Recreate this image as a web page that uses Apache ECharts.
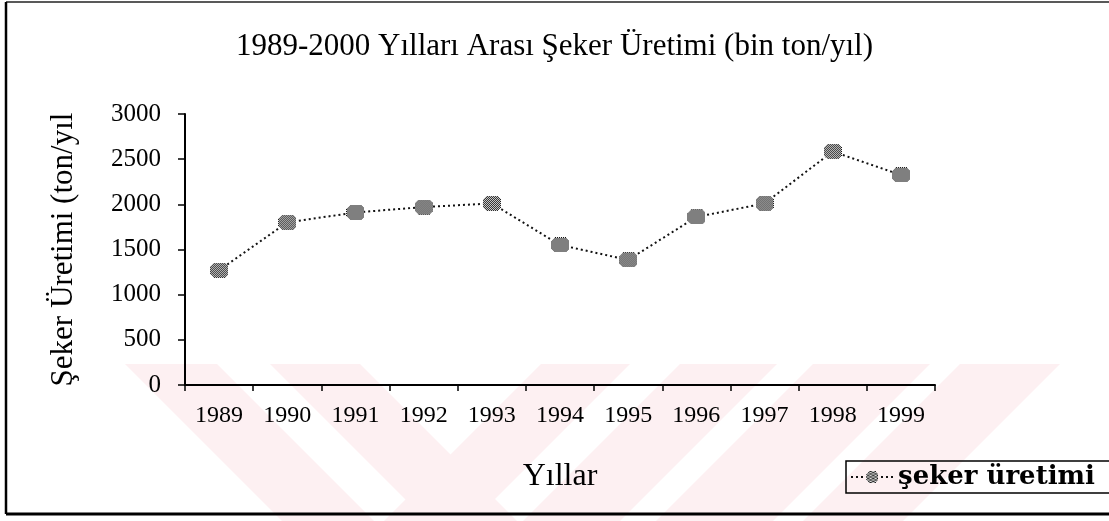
<!DOCTYPE html>
<html>
<head>
<meta charset="utf-8">
<script src="https://cdn.jsdelivr.net/npm/echarts@6/dist/echarts.min.js"></script>
<style>
html,body{margin:0;padding:0;background:#fff;}
#chart{width:1109px;height:521px;}
</style>
</head>
<body>
<div id="chart"></div>
<script>
// ---- data ----
const years = ['1989','1990','1991','1992','1993','1994','1995','1996','1997','1998','1999'];
const production = [1270, 1800, 1910, 1970, 2010, 1550, 1385, 1860, 2010, 2585, 2325];
const seriesName = 'şeker üretimi';
const titleText = '1989-2000 Yılları Arası Şeker Üretimi (bin ton/yıl)';
const yAxisName = 'Şeker Üretimi (ton/yıl';
const xAxisName = 'Yıllar';
const yMin = 0, yMax = 3000, yStep = 500;

// checkered marker image (drawn at exact pixel size)
const MW = 18, MH = 15;
const mk = document.createElement('canvas');
mk.width = MW; mk.height = MH;
const mc = mk.getContext('2d');
const img = mc.createImageData(MW, MH);
for (let y = 0; y < MH; y++) {
  for (let x = 0; x < MW; x++) {
    const cut = 3;
    const dx = Math.min(x, MW - 1 - x), dy = Math.min(y, MH - 1 - y);
    if (dx + dy < cut) continue; // cut corners -> octagon
    const i = (y * MW + x) * 4;
    const dark = (x + y) % 2 === 0;
    const v = dark ? 20 : 235;
    img.data[i] = v; img.data[i+1] = v; img.data[i+2] = v; img.data[i+3] = 255;
  }
}
mc.putImageData(img, 0, 0);
const markerSymbol = 'image://' + mk.toDataURL();

const serif = 'Liberation Serif';
const ink = '#000';
const wmColor = '#fdf0f2';
function bandDown(a,b){ return {type:'polygon', z:-10, silent:true, shape:{points:[[a,364],[b,364],[b+157,521],[a+157,521]]}, style:{fill:wmColor}}; }
function bandUp(a,b){ return {type:'polygon', z:-10, silent:true, shape:{points:[[a,364],[b,364],[b-157,521],[a-157,521]]}, style:{fill:wmColor}}; }

const chart = echarts.init(document.getElementById('chart'), null, {renderer:'canvas'});
chart.setOption({
  backgroundColor:'#ffffff',
  animation:false,
  title:{
    text:titleText, left:'center', top:26,
    textStyle:{fontFamily:serif, fontSize:31, fontWeight:'normal', color:ink}
  },
  grid:{left:185, right:174, top:114, bottom:136, containLabel:false},
  xAxis:{
    type:'category', data:years, boundaryGap:true,
    name:xAxisName, nameLocation:'middle', nameGap:76,
    nameTextStyle:{fontFamily:serif, fontSize:32, color:ink},
    axisLine:{lineStyle:{color:ink, width:2}},
    axisTick:{show:true, inside:false, length:6, lineStyle:{color:ink, width:1.5}},
    axisLabel:{fontFamily:serif, fontSize:24, color:ink, margin:19},
    splitLine:{show:false}
  },
  yAxis:{
    type:'value', min:yMin, max:yMax, interval:yStep,
    name:yAxisName, nameLocation:'middle', nameGap:106, nameRotate:90,
    nameTextStyle:{fontFamily:serif, fontSize:31, color:ink},
    axisLine:{show:true, lineStyle:{color:ink, width:2}},
    axisTick:{show:true, length:7, lineStyle:{color:ink, width:1.5}},
    axisLabel:{fontFamily:serif, fontSize:25, color:ink, margin:24,
      formatter:function(v){ return String(v); }},
    splitLine:{show:false}
  },
  legend:{
    show:true, left:846, top:461, orient:'horizontal',
    itemWidth:42, itemHeight:14,
    padding:[3,60,3,4],
    borderColor:ink, borderWidth:1.5,
    textStyle:{fontFamily:'DejaVu Serif', fontSize:26, fontWeight:'bold', color:ink},
    data:[{name:seriesName}]
  },
  series:[{
    name:seriesName, type:'line', data:production,
    symbol:markerSymbol, symbolSize:[MW, MH], symbolKeepAspect:false,
    lineStyle:{color:'#111', width:2, type:[2,3]},
    itemStyle:{color:'#555'},
    z:5
  }],
  graphic:[
    bandDown(125,217), bandDown(270,360),
    bandUp(541,630), bandUp(680,777), bandUp(813,930), bandUp(960,1060),
    {type:'line', z:100, silent:true, shape:{x1:6,y1:2,x2:1109,y2:2}, style:{stroke:'#222', lineWidth:1.5}},
    {type:'line', z:100, silent:true, shape:{x1:6,y1:2,x2:6,y2:514}, style:{stroke:ink, lineWidth:2.5}},
    {type:'line', z:100, silent:true, shape:{x1:6,y1:514,x2:1109,y2:514}, style:{stroke:ink, lineWidth:3}}
  ]
});
</script>
</body>
</html>
